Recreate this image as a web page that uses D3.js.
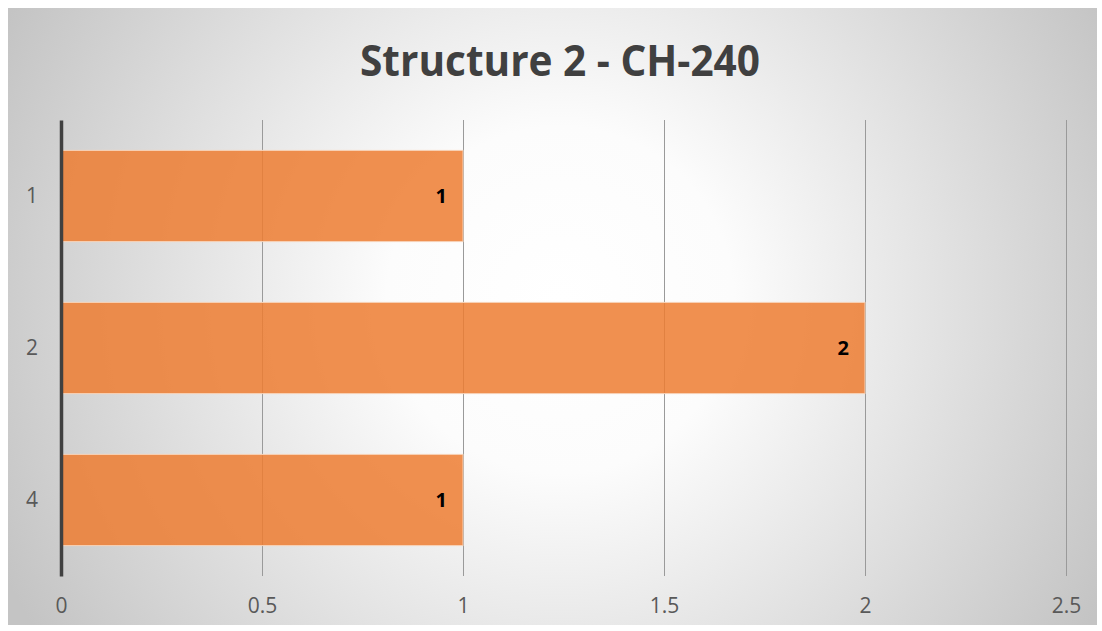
<!DOCTYPE html>
<html>
<head>
<meta charset="utf-8">
<script src="https://cdn.jsdelivr.net/npm/d3@7"></script>
<style>
  body { margin: 0; background: #fff; }
  svg { display: block; }
</style>
</head>
<body>
<div id="vis"></div>
<script>
const FRAME_WIDTH = 1102;
const FRAME_HEIGHT = 631;
const MARGINS = {left: 61, right: 36, top: 120, bottom: 55};

// data
const categories = ["1", "2", "4"];
const counts = [1, 2, 1];
const xTicks = [0, 0.5, 1, 1.5, 2, 2.5];
const chartTitle = "Structure 2 - CH-240";

const data = categories.map((c, i) => ({cat: c, val: counts[i]}));

const svg = d3.select("#vis")
  .append("svg")
    .attr("width", FRAME_WIDTH)
    .attr("height", FRAME_HEIGHT);

// radial background
const defs = svg.append("defs");
const grad = defs.append("radialGradient")
  .attr("id", "bg")
  .attr("gradientUnits", "userSpaceOnUse")
  .attr("cx", 560).attr("cy", 300).attr("r", 620);
grad.append("stop").attr("offset", "0%").attr("stop-color", "#ffffff");
grad.append("stop").attr("offset", "28%").attr("stop-color", "#fcfcfc");
grad.append("stop").attr("offset", "100%").attr("stop-color", "#c4c4c4");

svg.append("rect")
  .attr("x", 8).attr("y", 8)
  .attr("width", 1089).attr("height", 617)
  .attr("fill", "url(#bg)");

svg.append("text")
  .attr("x", 560)
  .attr("y", 76)
  .attr("text-anchor", "middle")
  .attr("font-family", "'Open Sans', sans-serif")
  .attr("font-weight", "bold")
  .attr("font-size", "43px")
  .attr("fill", "#404040")
  .attr("textLength", 400)
  .attr("lengthAdjust", "spacingAndGlyphs")
  .text(chartTitle);

const innerW = FRAME_WIDTH - MARGINS.left - MARGINS.right;
const innerH = FRAME_HEIGHT - MARGINS.top - MARGINS.bottom;

const xScale = d3.scaleLinear().domain([0, 2.5]).range([0, innerW]);
const yScale = d3.scaleBand().domain(categories).range([0, innerH]).paddingInner(0.4).paddingOuter(0.2);

const g = svg.append("g")
  .attr("transform", "translate(" + MARGINS.left + "," + MARGINS.top + ")");

// vertical gridlines
g.append("g")
  .selectAll("line")
  .data(xTicks.slice(1))
  .enter()
  .append("line")
    .attr("x1", d => Math.round(xScale(d)) + 0.5)
    .attr("x2", d => Math.round(xScale(d)) + 0.5)
    .attr("y1", 0)
    .attr("y2", innerH)
    .attr("stroke", "#9a9a9a")
    .attr("stroke-width", 1);

// bars
g.selectAll(".bar")
  .data(data)
  .enter()
  .append("rect")
    .attr("class", "bar")
    .attr("x", 0)
    .attr("y", d => yScale(d.cat))
    .attr("width", d => xScale(d.val))
    .attr("height", yScale.bandwidth())
    .attr("fill", "#ed7d31")
    .attr("fill-opacity", 0.85)
    .attr("stroke", "#f8d3b8")
    .attr("stroke-width", 1);

// value labels
g.selectAll(".lbl")
  .data(data)
  .enter()
  .append("text")
    .attr("class", "lbl")
    .attr("x", d => xScale(d.val) - 16)
    .attr("y", d => yScale(d.cat) + yScale.bandwidth() / 2 + 7)
    .attr("text-anchor", "end")
    .attr("font-family", "'Open Sans', sans-serif")
    .attr("font-weight", "bold")
    .attr("font-size", "20px")
    .attr("fill", "#000")
    .text(d => d.val);

// x axis labels
const xAxis = g.append("g")
  .attr("transform", "translate(0," + innerH + ")")
  .call(d3.axisBottom(xScale).tickValues(xTicks).tickSize(0).tickPadding(22).tickFormat(d3.format("")));
xAxis.select(".domain").remove();
xAxis.selectAll("text")
  .attr("font-family", "'Open Sans', sans-serif")
  .attr("font-size", "21px")
  .attr("fill", "#595959");

// y axis
const yAxis = g.append("g")
  .call(d3.axisLeft(yScale).tickSize(0).tickPadding(23));
yAxis.select(".domain")
  .attr("stroke", "#404040")
  .attr("stroke-width", 3.5);
yAxis.selectAll("text")
  .attr("font-family", "'Open Sans', sans-serif")
  .attr("font-size", "21px")
  .attr("fill", "#595959");
</script>
</body>
</html>
